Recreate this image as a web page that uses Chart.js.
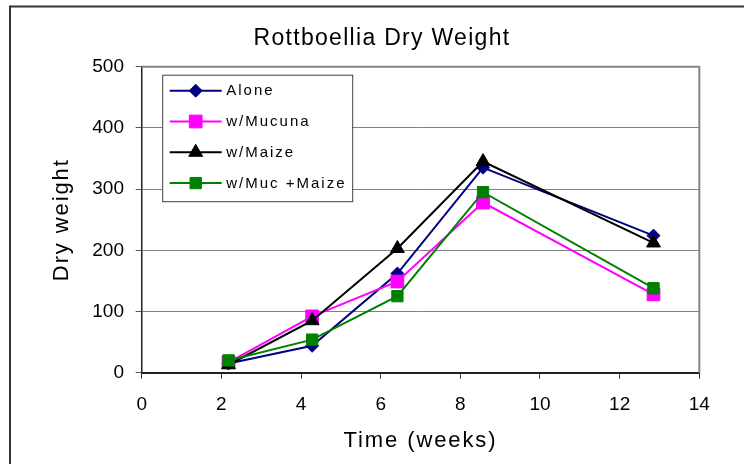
<!DOCTYPE html>
<html>
<head>
<meta charset="utf-8">
<title>Rottboellia Dry Weight</title>
<script src="https://cdn.jsdelivr.net/npm/chart.js@4.4.1/dist/chart.umd.min.js"></script>
<style>
  html, body { margin: 0; padding: 0; background: #ffffff; }
  canvas { display: block; }
</style>
</head>
<body>
<canvas id="chart" width="744" height="464"></canvas>
<script>
// Sampling times (weeks after planting)
const weeks = [2.18, 4.28, 6.42, 8.57, 12.85];

// Dry weight per treatment
const alone        = [15, 44, 162, 335, 224];
const withMucuna   = [17, 92, 149, 278, 128];
const withMaize    = [13, 85, 203, 345, 212];
const withMucMaize = [20, 54, 125, 295, 138];

const seriesNames = ['Alone', 'w/Mucuna', 'w/Maize', 'w/Muc +Maize'];

// Axis tick values
const xTicks = [0, 2, 4, 6, 8, 10, 12, 14];
const yTicks = [0, 100, 200, 300, 400, 500];

const seriesValues = [alone, withMucuna, withMaize, withMucMaize];
const seriesColors = ['#000080', '#FF00FF', '#000000', '#008000'];
const seriesMarkers = ['rectRot', 'rect', 'triangle', 'rect'];
const markerRadius = [6.5, 9, 8, 8];

const FONT = "'Liberation Sans', Arial, Helvetica, sans-serif";
Chart.defaults.font.family = FONT;
Chart.defaults.color = '#000000';

const datasets = seriesValues.map((vals, i) => ({
  label: seriesNames[i],
  data: weeks.map((w, j) => ({ x: w, y: vals[j] })),
  borderColor: seriesColors[i],
  backgroundColor: seriesColors[i],
  borderWidth: 2,
  pointStyle: seriesMarkers[i],
  pointRadius: markerRadius[i],
  pointBorderWidth: 1,
  pointBorderColor: seriesColors[i],
  pointBackgroundColor: seriesColors[i],
  tension: 0,
  // later series sit on top of earlier ones
  order: seriesValues.length - 1 - i
}));

// Marker drawing for the legend box
function drawMarker(ctx, style, r, x, y, color) {
  ctx.save();
  ctx.fillStyle = color;
  ctx.strokeStyle = color;
  ctx.lineWidth = 1;
  ctx.beginPath();
  if (style === 'rectRot') {
    ctx.moveTo(x - r, y); ctx.lineTo(x, y - r); ctx.lineTo(x + r, y); ctx.lineTo(x, y + r);
  } else if (style === 'rect') {
    const s = Math.SQRT1_2 * r;
    ctx.rect(x - s, y - s, 2 * s, 2 * s);
  } else if (style === 'triangle') {
    const a = 2 * Math.PI / 3;
    ctx.moveTo(x, y - r);
    ctx.lineTo(x + Math.sin(a) * r, y - Math.cos(a) * r);
    ctx.lineTo(x + Math.sin(2 * a) * r, y - Math.cos(2 * a) * r);
  }
  ctx.closePath();
  ctx.fill();
  ctx.stroke();
  ctx.restore();
}

// Wrap a draw method so its text is rendered with extra letter spacing
function withSpacing(obj, method, spacing) {
  if (!obj || !obj[method] || obj[method].__spaced) return;
  const orig = obj[method];
  const wrapped = function (...args) {
    const c = this.ctx;
    const prev = c.letterSpacing;
    c.letterSpacing = spacing;
    try { return orig.apply(this, args); } finally { c.letterSpacing = prev; }
  };
  wrapped.__spaced = true;
  obj[method] = wrapped;
}

// Outer frame of the chart and text spacing set-up
const framePlugin = {
  id: 'frame',
  beforeDraw(chart) {
    if ('letterSpacing' in chart.ctx) {
      withSpacing(chart.titleBlock, 'draw', '1.3px');
      withSpacing(chart.scales.x, 'drawTitle', '1.9px');
      withSpacing(chart.scales.y, 'drawTitle', '1.9px');
    }
    const ctx = chart.ctx;
    ctx.save();
    ctx.fillStyle = '#ffffff';
    ctx.fillRect(0, 0, chart.width, chart.height);
    ctx.strokeStyle = '#333333';
    ctx.lineWidth = 2;
    ctx.beginPath();
    ctx.moveTo(10, chart.height + 5);
    ctx.lineTo(10, 6.5);
    ctx.lineTo(chart.width + 5, 6.5);
    ctx.stroke();
    ctx.restore();
  }
};

// Top and right edges of the plot area
const plotBorderPlugin = {
  id: 'plotBorder',
  beforeDatasetsDraw(chart) {
    const { ctx, chartArea: a } = chart;
    ctx.save();
    ctx.strokeStyle = '#858585';
    ctx.lineWidth = 2;
    ctx.beginPath();
    ctx.moveTo(a.left, a.top);
    ctx.lineTo(a.right, a.top);
    ctx.lineTo(a.right, a.bottom);
    ctx.stroke();
    ctx.restore();
  }
};

// Boxed legend inside the plot area
const boxLegendPlugin = {
  id: 'boxLegend',
  afterDraw(chart) {
    const { ctx, chartArea: a } = chart;
    const left = a.left + 20.5, top = a.top + 8, w = 190, h = 126.5;
    ctx.save();
    ctx.fillStyle = '#ffffff';
    ctx.fillRect(left, top, w, h);
    ctx.strokeStyle = '#404040';
    ctx.lineWidth = 1;
    ctx.strokeRect(left + 0.5, top + 0.5, w, h);
    ctx.font = '15px ' + FONT;
    ctx.textBaseline = 'middle';
    ctx.textAlign = 'left';
    if ('letterSpacing' in ctx) ctx.letterSpacing = '2px';
    seriesNames.forEach((name, i) => {
      const y = top + 16 + i * 30.8;
      ctx.strokeStyle = seriesColors[i];
      ctx.lineWidth = 2;
      ctx.beginPath();
      ctx.moveTo(left + 7.5, y);
      ctx.lineTo(left + 59.5, y);
      ctx.stroke();
      drawMarker(ctx, seriesMarkers[i], markerRadius[i], left + 33.5, y, seriesColors[i]);
      ctx.fillStyle = '#000000';
      ctx.fillText(name, left + 64, y + 0.5);
    });
    ctx.restore();
  }
};

new Chart(document.getElementById('chart'), {
  type: 'line',
  data: { datasets },
  plugins: [framePlugin, plotBorderPlugin, boxLegendPlugin],
  options: {
    responsive: false,
    animation: false,
    devicePixelRatio: 1,
    layout: { padding: { left: 64.7, right: 44.7, top: 0, bottom: 0 } },
    plugins: {
      legend: { display: false },
      tooltip: { enabled: false },
      title: {
        display: true,
        text: 'Rottboellia Dry Weight',
        color: '#000000',
        font: { size: 23, weight: 'normal', family: FONT },
        padding: { top: 24.5, bottom: 14.6 }
      }
    },
    scales: {
      x: {
        type: 'linear',
        min: xTicks[0],
        max: xTicks[xTicks.length - 1],
        afterBuildTicks(scale) { scale.ticks = xTicks.map(v => ({ value: v })); },
        afterFit(scale) { scale.height = 91.3; },
        grid: {
          drawOnChartArea: false,
          drawTicks: true,
          tickLength: 6,
          tickColor: '#333333',
          tickWidth: 1
        },
        border: { display: true, color: '#222222', width: 2 },
        ticks: {
          padding: 14.3,
          color: '#000000',
          font: { size: 19, family: FONT },
          maxRotation: 0
        },
        title: {
          display: true,
          text: 'Time (weeks)',
          color: '#000000',
          font: { size: 22, family: FONT },
          padding: { top: 0, bottom: 10 }
        }
      },
      y: {
        type: 'linear',
        min: yTicks[0],
        max: yTicks[yTicks.length - 1],
        afterBuildTicks(scale) { scale.ticks = yTicks.map(v => ({ value: v })); },
        afterFit(scale) { scale.width = 77; },
        grid: {
          color: '#808080',
          lineWidth: 1,
          drawTicks: true,
          tickLength: 6,
          tickColor: '#555555'
        },
        border: { display: true, color: '#222222', width: 1.5 },
        ticks: {
          padding: 11.7,
          color: '#000000',
          font: { size: 19, family: FONT }
        },
        title: {
          display: true,
          text: 'Dry weight',
          color: '#000000',
          font: { size: 22, family: FONT },
          padding: { top: -16.4, bottom: 0 }
        }
      }
    }
  }
});
</script>
</body>
</html>
